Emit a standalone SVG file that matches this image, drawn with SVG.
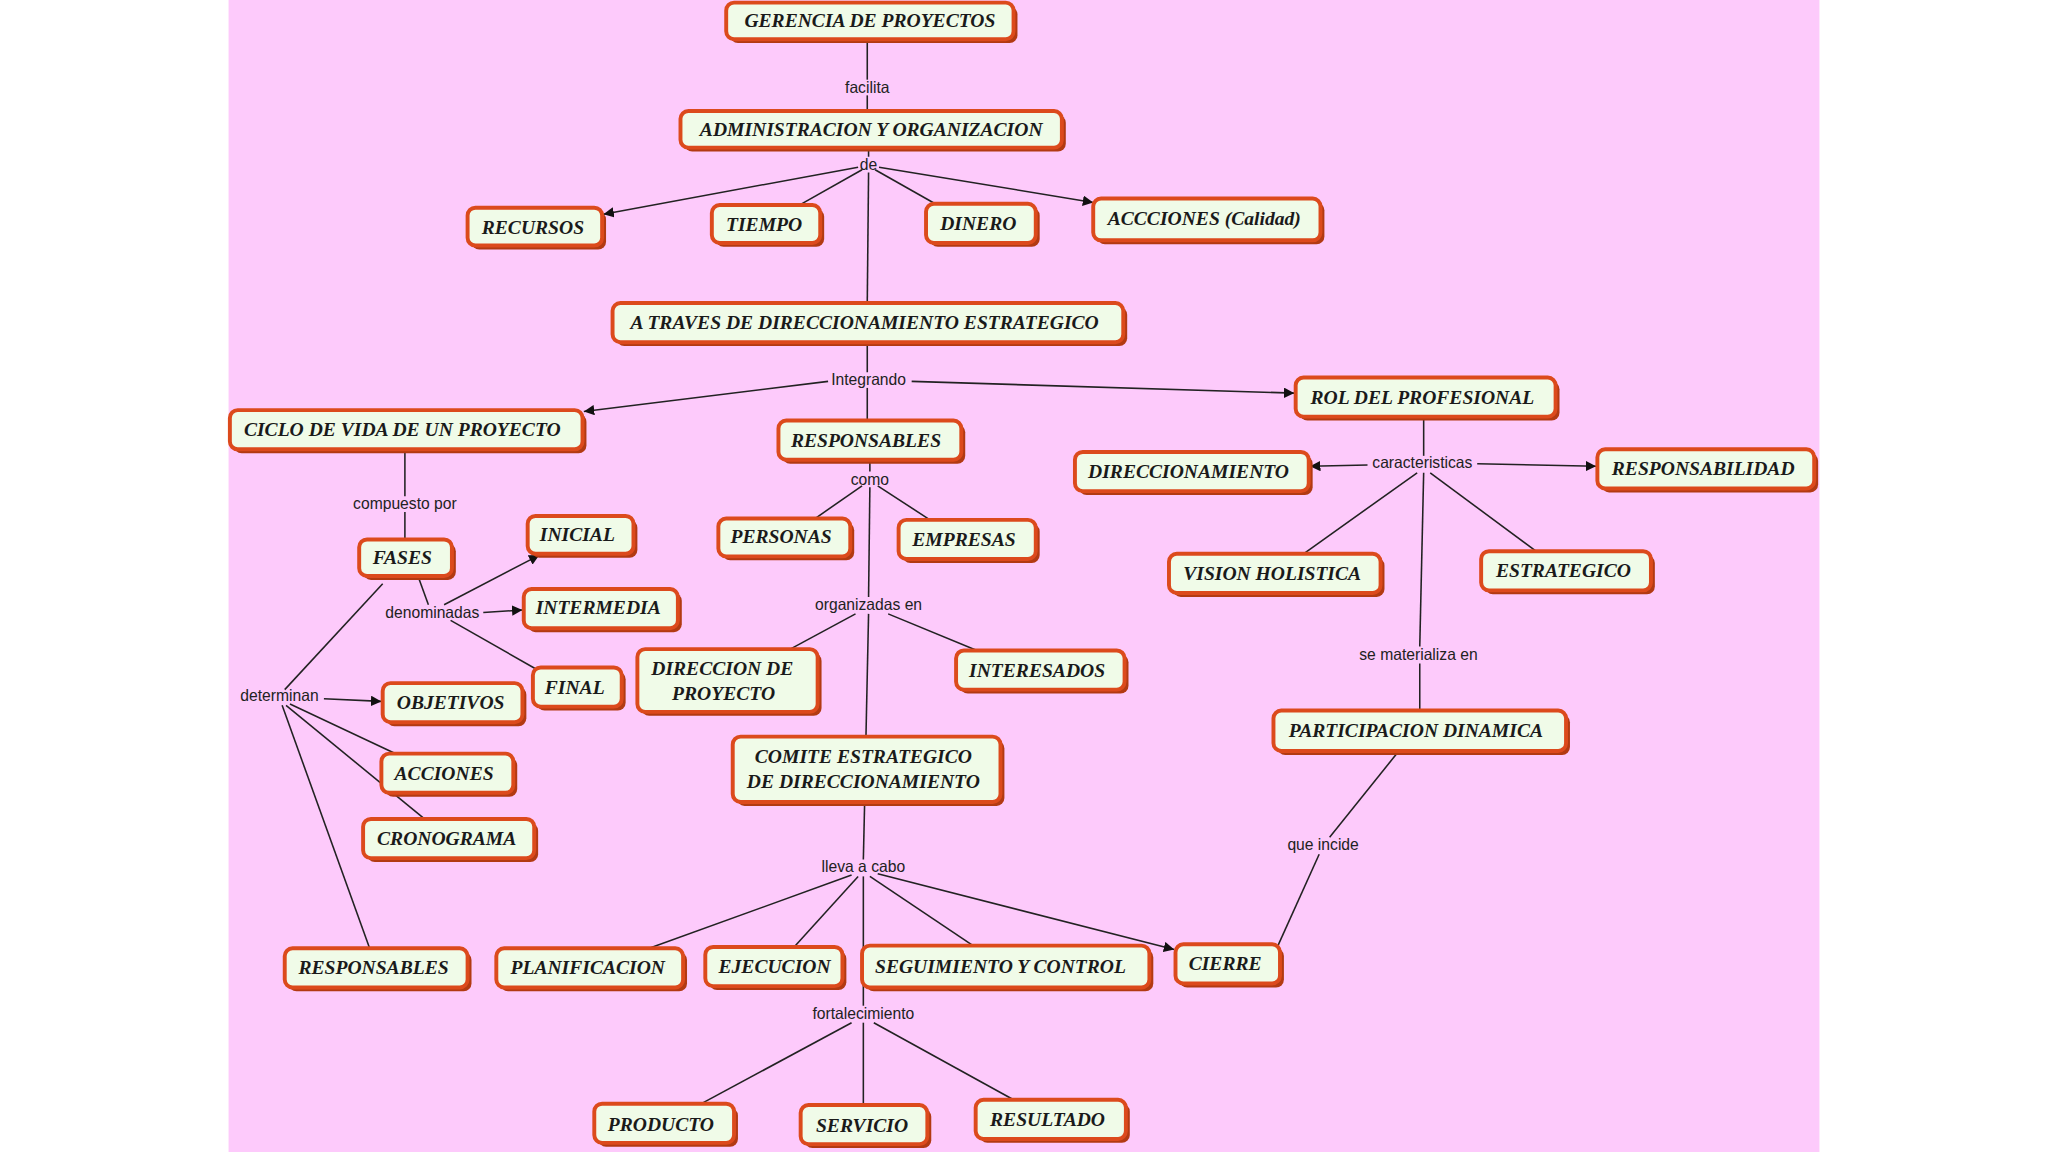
<svg xmlns="http://www.w3.org/2000/svg" width="2048" height="1152" viewBox="0 0 2048 1152">
<style>
.n rect.s{fill:#b23a12}
.n rect.b{fill:#f0fbe8;stroke:#dc4a1c;stroke-width:3}
.n text{font-family:"Liberation Serif",serif;font-weight:bold;font-style:italic;font-size:15px;fill:#1a1a1a;text-anchor:middle}
.l{font-family:"Liberation Sans",Arial,sans-serif;font-size:12px;fill:#222;text-anchor:middle}
#links line{stroke:#222;stroke-width:1.2}
#links line.a{marker-end:url(#ah)}
</style>
<defs>
<marker id="ah" viewBox="0 0 10 10" refX="10" refY="5" markerWidth="8" markerHeight="8" markerUnits="userSpaceOnUse" orient="auto"><path d="M0,0L10,5L0,10z" fill="#111"/></marker>
</defs>
<rect width="2048" height="1152" fill="#fff"/>
<g transform="scale(1.30612)">
<rect x="175" y="0" width="1218" height="882" fill="#fdcafb"/>
<g id="links">
<line x1="664" y1="30" x2="664" y2="61"/><line x1="664" y1="73" x2="664" y2="85"/>
<line x1="665" y1="113" x2="665" y2="120"/>
<line class="a" x1="657" y1="128" x2="462" y2="164"/>
<line x1="660" y1="130" x2="612" y2="157"/>
<line x1="670" y1="130" x2="716" y2="156"/>
<line class="a" x1="673" y1="128" x2="837" y2="155"/>
<line x1="665" y1="132" x2="664" y2="232"/>
<line x1="664" y1="262" x2="664" y2="285"/>
<line class="a" x1="634" y1="292" x2="447" y2="315"/>
<line class="a" x1="698" y1="292" x2="991" y2="301"/>
<line x1="664" y1="297" x2="664" y2="322"/>
<line x1="666" y1="352" x2="666" y2="361"/>
<line x1="660" y1="372" x2="624" y2="397"/>
<line x1="672" y1="372" x2="712" y2="398"/>
<line x1="666" y1="373" x2="665" y2="457"/>
<line x1="655" y1="470" x2="605" y2="497"/>
<line x1="680" y1="470" x2="748" y2="498"/>
<line x1="665" y1="470" x2="663" y2="564"/>
<line x1="310" y1="344" x2="310" y2="380"/><line x1="310" y1="392" x2="310" y2="413"/>
<line x1="320" y1="441" x2="328" y2="463"/>
<line class="a" x1="340" y1="463" x2="413" y2="425"/>
<line class="a" x1="370" y1="469" x2="400" y2="467"/>
<line x1="345" y1="475" x2="410" y2="512"/>
<line x1="293" y1="447" x2="218" y2="528"/>
<line class="a" x1="248" y1="535" x2="292" y2="537"/>
<line x1="222" y1="539" x2="305" y2="578"/>
<line x1="219" y1="540" x2="325" y2="627"/>
<line x1="216" y1="540" x2="283" y2="726"/>
<line x1="1090" y1="319" x2="1090" y2="349"/>
<line class="a" x1="1047" y1="356" x2="1003" y2="357"/>
<line class="a" x1="1131" y1="355" x2="1222" y2="357"/>
<line x1="1085" y1="362" x2="998" y2="424"/>
<line x1="1095" y1="362" x2="1176" y2="422"/>
<line x1="1090" y1="362" x2="1087" y2="495"/>
<line x1="1087" y1="508" x2="1087" y2="544"/>
<line x1="1071" y1="575" x2="1018" y2="641"/>
<line x1="1010" y1="654" x2="978" y2="725"/>
<line x1="662" y1="614" x2="661" y2="658"/>
<line x1="652" y1="670" x2="497" y2="726"/>
<line x1="657" y1="671" x2="608" y2="725"/>
<line x1="666" y1="671" x2="745" y2="724"/>
<line class="a" x1="672" y1="669" x2="899" y2="727"/>
<line x1="661" y1="671" x2="661" y2="770"/>
<line x1="652" y1="783" x2="537" y2="845"/>
<line x1="661" y1="783" x2="661" y2="846"/>
<line x1="669" y1="783" x2="776" y2="842"/>
</g>
<g id="labels">
<text class="l" x="664" y="71">facilita</text>
<text class="l" x="665" y="130">de</text>
<text class="l" x="665" y="295">Integrando</text>
<text class="l" x="666" y="371">como</text>
<text class="l" x="310" y="390">compuesto por</text>
<text class="l" x="331" y="473">denominadas</text>
<text class="l" x="1089" y="358">caracteristicas</text>
<text class="l" x="665" y="467">organizadas en</text>
<text class="l" x="214" y="537">determinan</text>
<text class="l" x="1086" y="505">se materializa en</text>
<text class="l" x="661" y="668">lleva a cabo</text>
<text class="l" x="1013" y="651">que incide</text>
<text class="l" x="661" y="780">fortalecimiento</text>
</g>
<g id="n1" class="n"><rect class="s" x="559" y="5" width="220" height="28" rx="6"/><rect class="b" x="556" y="2" width="220" height="28" rx="6"/><text x="666" y="21">GERENCIA DE PROYECTOS</text></g>
<g id="n2" class="n"><rect class="s" x="524" y="88" width="292" height="28" rx="6"/><rect class="b" x="521" y="85" width="292" height="28" rx="6"/><text x="667" y="104">ADMINISTRACION Y ORGANIZACION</text></g>
<g id="n3" class="n"><rect class="s" x="361" y="162" width="103" height="29" rx="6"/><rect class="b" x="358" y="159" width="103" height="29" rx="6"/><text x="408" y="179">RECURSOS</text></g>
<g id="n4" class="n"><rect class="s" x="548" y="160" width="83" height="29" rx="6"/><rect class="b" x="545" y="157" width="83" height="29" rx="6"/><text x="585" y="177">TIEMPO</text></g>
<g id="n5" class="n"><rect class="s" x="712" y="159" width="84" height="30" rx="6"/><rect class="b" x="709" y="156" width="84" height="30" rx="6"/><text x="749" y="176">DINERO</text></g>
<g id="n6" class="n"><rect class="s" x="840" y="155" width="174" height="32" rx="6"/><rect class="b" x="837" y="152" width="174" height="32" rx="6"/><text x="922" y="172">ACCCIONES (Calidad)</text></g>
<g id="n7" class="n"><rect class="s" x="472" y="235" width="391" height="30" rx="6"/><rect class="b" x="469" y="232" width="391" height="30" rx="6"/><text x="662" y="252">A TRAVES DE DIRECCIONAMIENTO ESTRATEGICO</text></g>
<g id="n8" class="n"><rect class="s" x="179" y="317" width="270" height="30" rx="6"/><rect class="b" x="176" y="314" width="270" height="30" rx="6"/><text x="308" y="334">CICLO DE VIDA DE UN PROYECTO</text></g>
<g id="n9" class="n"><rect class="s" x="599" y="325" width="140" height="30" rx="6"/><rect class="b" x="596" y="322" width="140" height="30" rx="6"/><text x="663" y="342">RESPONSABLES</text></g>
<g id="n10" class="n"><rect class="s" x="995" y="292" width="199" height="30" rx="6"/><rect class="b" x="992" y="289" width="199" height="30" rx="6"/><text x="1089" y="309">ROL DEL PROFESIONAL</text></g>
<g id="n11" class="n"><rect class="s" x="826" y="349" width="179" height="30" rx="6"/><rect class="b" x="823" y="346" width="179" height="30" rx="6"/><text x="910" y="366">DIRECCIONAMIENTO</text></g>
<g id="n12" class="n"><rect class="s" x="1226" y="347" width="166" height="30" rx="6"/><rect class="b" x="1223" y="344" width="166" height="30" rx="6"/><text x="1304" y="364">RESPONSABILIDAD</text></g>
<g id="n13" class="n"><rect class="s" x="278" y="416" width="71" height="28" rx="6"/><rect class="b" x="275" y="413" width="71" height="28" rx="6"/><text x="308" y="432">FASES</text></g>
<g id="n14" class="n"><rect class="s" x="407" y="398" width="81" height="29" rx="6"/><rect class="b" x="404" y="395" width="81" height="29" rx="6"/><text x="442" y="414">INICIAL</text></g>
<g id="n15" class="n"><rect class="s" x="404" y="454" width="118" height="30" rx="6"/><rect class="b" x="401" y="451" width="118" height="30" rx="6"/><text x="458" y="470">INTERMEDIA</text></g>
<g id="n16" class="n"><rect class="s" x="411" y="514" width="68" height="30" rx="6"/><rect class="b" x="408" y="511" width="68" height="30" rx="6"/><text x="440" y="531">FINAL</text></g>
<g id="n17" class="n"><rect class="s" x="553" y="400" width="101" height="29" rx="6"/><rect class="b" x="550" y="397" width="101" height="29" rx="6"/><text x="598" y="416">PERSONAS</text></g>
<g id="n18" class="n"><rect class="s" x="691" y="401" width="105" height="30" rx="6"/><rect class="b" x="688" y="398" width="105" height="30" rx="6"/><text x="738" y="418">EMPRESAS</text></g>
<g id="n19" class="n"><rect class="s" x="898" y="427" width="162" height="30" rx="6"/><rect class="b" x="895" y="424" width="162" height="30" rx="6"/><text x="974" y="444">VISION HOLISTICA</text></g>
<g id="n20" class="n"><rect class="s" x="1137" y="425" width="130" height="30" rx="6"/><rect class="b" x="1134" y="422" width="130" height="30" rx="6"/><text x="1197" y="442">ESTRATEGICO</text></g>
<g id="n21" class="n"><rect class="s" x="491" y="500" width="138" height="48" rx="6"/><rect class="b" x="488" y="497" width="138" height="48" rx="6"/><text x="553" y="517">DIRECCION DE</text><text x="554" y="536">PROYECTO</text></g>
<g id="n22" class="n"><rect class="s" x="735" y="501" width="129" height="30" rx="6"/><rect class="b" x="732" y="498" width="129" height="30" rx="6"/><text x="794" y="518">INTERESADOS</text></g>
<g id="n23" class="n"><rect class="s" x="296" y="526" width="107" height="30" rx="6"/><rect class="b" x="293" y="523" width="107" height="30" rx="6"/><text x="345" y="543">OBJETIVOS</text></g>
<g id="n24" class="n"><rect class="s" x="295" y="580" width="101" height="30" rx="6"/><rect class="b" x="292" y="577" width="101" height="30" rx="6"/><text x="340" y="597">ACCIONES</text></g>
<g id="n25" class="n"><rect class="s" x="281" y="630" width="131" height="30" rx="6"/><rect class="b" x="278" y="627" width="131" height="30" rx="6"/><text x="342" y="647">CRONOGRAMA</text></g>
<g id="n26" class="n"><rect class="s" x="564" y="567" width="205" height="50" rx="6"/><rect class="b" x="561" y="564" width="205" height="50" rx="6"/><text x="661" y="584">COMITE ESTRATEGICO</text><text x="661" y="603">DE DIRECCIONAMIENTO</text></g>
<g id="n27" class="n"><rect class="s" x="978" y="547" width="224" height="31" rx="6"/><rect class="b" x="975" y="544" width="224" height="31" rx="6"/><text x="1084" y="564">PARTICIPACION DINAMICA</text></g>
<g id="n28" class="n"><rect class="s" x="221" y="729" width="140" height="30" rx="6"/><rect class="b" x="218" y="726" width="140" height="30" rx="6"/><text x="286" y="746">RESPONSABLES</text></g>
<g id="n29" class="n"><rect class="s" x="383" y="729" width="143" height="30" rx="6"/><rect class="b" x="380" y="726" width="143" height="30" rx="6"/><text x="450" y="746">PLANIFICACION</text></g>
<g id="n30" class="n"><rect class="s" x="543" y="728" width="105" height="30" rx="6"/><rect class="b" x="540" y="725" width="105" height="30" rx="6"/><text x="593" y="745">EJECUCION</text></g>
<g id="n31" class="n"><rect class="s" x="663" y="727" width="220" height="32" rx="6"/><rect class="b" x="660" y="724" width="220" height="32" rx="6"/><text x="766" y="745">SEGUIMIENTO Y CONTROL</text></g>
<g id="n32" class="n"><rect class="s" x="903" y="726" width="80" height="30" rx="6"/><rect class="b" x="900" y="723" width="80" height="30" rx="6"/><text x="938" y="743">CIERRE</text></g>
<g id="n33" class="n"><rect class="s" x="458" y="848" width="107" height="30" rx="6"/><rect class="b" x="455" y="845" width="107" height="30" rx="6"/><text x="506" y="866">PRODUCTO</text></g>
<g id="n34" class="n"><rect class="s" x="616" y="849" width="97" height="30" rx="6"/><rect class="b" x="613" y="846" width="97" height="30" rx="6"/><text x="660" y="867">SERVICIO</text></g>
<g id="n35" class="n"><rect class="s" x="750" y="845" width="115" height="30" rx="6"/><rect class="b" x="747" y="842" width="115" height="30" rx="6"/><text x="802" y="862">RESULTADO</text></g>
</g>
</svg>
